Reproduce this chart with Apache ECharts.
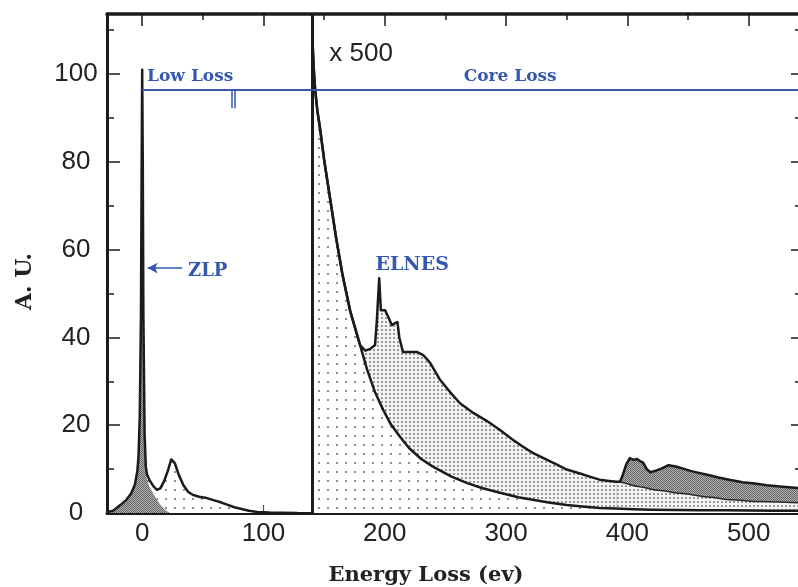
<!DOCTYPE html>
<html>
<head>
<meta charset="utf-8">
<title>EELS spectrum</title>
<script src="https://cdn.jsdelivr.net/npm/echarts@6/dist/echarts.min.js"></script>
<style>
  html, body { margin: 0; padding: 0; background: #ffffff; }
  #chart { width: 798px; height: 587px; }
</style>
</head>
<body>
<div id="chart"></div>
<script>
// ---- Low-loss region (eV, A.U.) ----
const lowLossE = [-29, -24, -18, -13, -9, -6, -4, -3, -2, -1, -0.5, 0, 0.5, 1, 2, 3, 4, 6, 9, 12, 15, 18, 21, 24, 25, 27, 30, 34, 38, 42, 47, 52, 58, 64, 70, 76, 82, 88, 95, 105, 115, 128];
const lowLossI = [0.2, 0.5, 1.8, 3.0, 4.5, 6.5, 9.5, 13, 22, 45, 75, 101, 80, 45, 18, 10.5, 8.8, 7.5, 6.2, 5.3, 5.6, 7.2, 9.5, 12.2, 12.5, 11.3, 8.8, 6.3, 4.8, 4.1, 3.7, 3.5, 3.0, 2.5, 1.9, 1.3, 0.9, 0.5, 0.25, 0.1, 0.05, 0.0];

// Zero-loss peak
const zlpE = [-29, -24, -18, -13, -9, -6, -4, -3, -2, -1, -0.5, 0, 0.5, 1, 2, 3, 4, 6, 8, 10, 12, 15, 18, 21, 23];
const zlpI = [0.2, 0.5, 1.8, 3.0, 4.5, 6.5, 9.5, 13, 22, 45, 75, 101, 80, 45, 18, 10, 7.5, 6.0, 5.0, 4.0, 3.0, 1.9, 1.0, 0.3, 0];

// ---- Core-loss region (x 500) ----
const coreE = [140.5, 141.5, 142.6, 144.5, 146.7, 150, 155, 160, 165, 171.5, 179.7, 184, 188, 192, 193.5, 195.4, 196.8, 200.3, 203, 205.8, 208.6, 210.4, 212, 215, 220, 226.4, 231.7, 237.4, 245.7, 254, 262, 273, 284, 295, 305, 314, 322, 333, 342, 350, 361, 369, 377, 385, 391, 394, 396, 399, 402, 405, 408, 410.5, 413, 416, 419, 424, 428, 434, 440, 446, 452, 458, 466, 475, 485, 495, 505, 515, 528, 541.5];
const coreI = [107, 101, 96.4, 91.5, 87.5, 80.5, 71.5, 62.5, 54.5, 46.0, 38.2, 37.0, 37.4, 38.3, 44, 53.5, 46.2, 46.2, 44.6, 42.8, 43.3, 43.5, 40, 36.7, 36.7, 36.7, 36, 34.2, 30.3, 27.5, 25, 22.8, 21, 18.9, 16.8, 15.1, 13.7, 12.2, 11.0, 9.9, 9.0, 8.3, 7.6, 7.3, 7.1, 7.2, 8.5, 11, 12.5, 12.1, 12.3, 11.8, 11.5, 10.0, 9.3, 9.7, 10.1, 10.9, 10.6, 10.1, 9.6, 9.2, 8.7, 8.1, 7.5, 7.0, 6.7, 6.3, 6.0, 5.7];

// Background under the first edge
const bgE = [140.5, 141.5, 142.6, 144.5, 146.7, 150, 155, 160, 165, 171.5, 179.7, 185.5, 192, 198.7, 205, 212.7, 220, 230, 240, 255, 268, 280, 295, 310, 322, 335, 350, 365, 377, 390, 405, 420, 440, 460, 480, 500, 520, 541.5];
const bgI = [107, 101, 96.4, 91.5, 87.5, 80.5, 71.5, 62.5, 54.5, 46.0, 38.2, 32.6, 27.5, 23.5, 20.2, 17.3, 14.8, 12.3, 10.5, 8.3, 6.8, 5.7, 4.6, 3.6, 3.0, 2.4, 1.8, 1.4, 1.15, 1.0, 0.85, 0.75, 0.7, 0.65, 0.6, 0.55, 0.5, 0.5];

// Background under the second edge
const bg2E = [391, 394, 410, 425, 444, 465, 485, 510, 541.5];
const bg2I = [7.1, 7.0, 6.0, 5.2, 4.5, 3.7, 3.0, 2.6, 2.3];

// ---- Axis ticks ----
const xLabelValues = [0, 100, 200, 300, 400, 500];
const xHalfTicks = [50, 150, 250, 350, 450];
const xAllTicks = [0, 50, 100, 150, 200, 250, 300, 350, 400, 450, 500];

// ---- Annotations ----
const lossLevel = 96.4;
const lowLossEnd = 73.5;
const coreLossStart = 76;
const dividerE = 140;

const pair = (xs, ys) => xs.map((x, i) => [x, ys[i]]);

function makePattern(w, h, bg, dots) {
  const c = document.createElement('canvas');
  c.width = w; c.height = h;
  const g = c.getContext('2d');
  g.fillStyle = bg; g.fillRect(0, 0, w, h);
  dots.forEach(d => { g.fillStyle = d[4]; g.fillRect(d[0], d[1], d[2], d[3]); });
  return { image: c, repeat: 'repeat' };
}
const sparseDots = makePattern(9, 9, '#ffffff', [[3, 3, 2, 2, '#8f8f8f']]);
const mediumDots = makePattern(4, 4, '#f4f4f4', [[1, 1, 2, 2, '#9a9a9a']]);
const darkHatch = makePattern(2, 2, '#b0b0b0', [[0, 0, 1, 1, '#666666'], [1, 1, 1, 1, '#666666']]);

const ink = '#1b1b1b';
const blue = '#3557b0';
const sans = 'Liberation Sans, Arial, sans-serif';
const serif = 'DejaVu Serif, serif';

function fill(data, color, z, extra) {
  return Object.assign({
    type: 'line', data, z, silent: true, symbol: 'none',
    lineStyle: { width: 0, opacity: 0 },
    areaStyle: { color, opacity: 1 }
  }, extra || {});
}
function curve(data, width, z, extra) {
  return Object.assign({
    type: 'line', data, z, silent: true, symbol: 'none',
    lineStyle: { color: ink, width, join: 'round' }
  }, extra || {});
}
const soft = { smooth: 0.25, smoothMonotone: 'x' };

const edge2Start = bg2E[0];
const coreAfterEdge2 = pair(coreE, coreI).filter(p => p[0] >= edge2Start);

const chart = echarts.init(document.getElementById('chart'), null, { renderer: 'canvas' });

const tickStyle = { color: ink, width: 1.5 };
const option = {
  animation: false,
  backgroundColor: '#ffffff',
  grid: { left: 107, top: 14, width: 692, bottom: 74, outerBoundsMode: 'none' },
  xAxis: [
    {
      type: 'value', position: 'bottom', min: -29, max: 541.5,
      axisLine: { onZero: false, lineStyle: { color: ink, width: 3 } },
      axisTick: { inside: true, length: 8, customValues: xAllTicks, lineStyle: { color: '#555', width: 1.2 } },
      axisLabel: { customValues: xLabelValues, fontSize: 26, fontFamily: sans, color: '#222', margin: 8 },
      splitLine: { show: false },
      name: 'Energy Loss (ev)', nameLocation: 'middle', nameGap: 52,
      nameTextStyle: { fontFamily: serif, fontWeight: 'bold', fontSize: 21, color: '#222', padding: [0, 54, 0, 0] }
    },
    {
      type: 'value', position: 'top', min: -29, max: 541.5,
      axisLine: { onZero: false, lineStyle: { color: ink, width: 3.5 } },
      axisTick: { inside: true, length: 12, customValues: xLabelValues, lineStyle: tickStyle },
      axisLabel: { show: false }, splitLine: { show: false }
    },
    {
      type: 'value', position: 'top', min: -29, max: 541.5,
      axisLine: { show: false, onZero: false },
      axisTick: { inside: true, length: 6, customValues: xHalfTicks, lineStyle: tickStyle },
      axisLabel: { show: false }, splitLine: { show: false }
    }
  ],
  yAxis: [
    {
      type: 'value', position: 'left', min: 0, max: 113.7, interval: 20,
      axisLine: { onZero: false, lineStyle: { color: ink, width: 3 } },
      axisTick: { inside: true, length: 13, lineStyle: tickStyle },
      minorTick: { show: true, splitNumber: 2, length: 7, lineStyle: tickStyle },
      axisLabel: {
        fontSize: 26, fontFamily: sans, color: '#222', align: 'center', margin: 31,
        showMaxLabel: false,
        formatter: v => (v % 20 === 0 ? String(v) : '')
      },
      splitLine: { show: false },
      name: 'A. U.', nameLocation: 'middle', nameGap: 71,
      nameTextStyle: { fontFamily: serif, fontWeight: 'bold', fontSize: 22, color: '#222', padding: [0, 36, 0, 0] }
    },
    {
      type: 'value', position: 'right', min: 0, max: 113.7, interval: 20,
      axisLine: { show: false, onZero: false },
      axisTick: { inside: true, length: 8, lineStyle: tickStyle },
      minorTick: { show: true, splitNumber: 2, length: 4, lineStyle: tickStyle },
      axisLabel: { show: false }, splitLine: { show: false }
    }
  ],
  series: [
    // fills, back to front
    fill(pair(lowLossE, lowLossI), sparseDots, 1),
    fill(pair(zlpE, zlpI), darkHatch, 2),
    fill(pair(coreE, coreI), mediumDots, 1),
    fill(coreAfterEdge2, darkHatch, 2),
    fill(pair(bg2E, bg2I), mediumDots, 3, soft),
    fill(pair(bgE, bgI), sparseDots, 4),
    // outlines
    curve(pair(lowLossE, lowLossI), 2.5, 10),
    curve(pair(bg2E, bg2I), 1.5, 10, Object.assign({ lineStyle: { color: '#2a2a2a', width: 1.5 } }, soft)),
    curve(pair(bgE, bgI), 2.5, 10),
    curve(pair(coreE, coreI), 2.5, 10, {
      markLine: {
        silent: true, symbol: ['none', 'none'], animation: false,
        label: { show: false },
        lineStyle: { color: ink, width: 3, type: 'solid' },
        data: [{ xAxis: dividerE }]
      }
    }),
    // blue "Low Loss / Core Loss" bar and annotations
    {
      type: 'line', z: 12, silent: true, symbol: 'none',
      data: [[0, lossLevel], [541.5, lossLevel]],
      lineStyle: { color: blue, width: 2 },
      markLine: {
        silent: true, symbol: ['none', 'none'], animation: false,
        label: { show: false },
        lineStyle: { color: blue, width: 1.5, type: 'solid' },
        data: [
          [{ coord: [lowLossEnd, lossLevel] }, { coord: [lowLossEnd, 92.2] }],
          [{ coord: [coreLossStart, lossLevel] }, { coord: [coreLossStart, 92.2] }],
          [{ coord: [33, 55.8], symbol: 'none' }, { coord: [4.5, 55.8], symbol: 'arrow', symbolSize: [8, 10] }]
        ]
      },
      markPoint: {
        silent: true, symbol: 'circle', symbolSize: 0, animation: false,
        label: {
          show: true, position: 'inside', formatter: '{b}',
          fontFamily: serif, fontWeight: 'bold', fontSize: 17, color: blue
        },
        data: [
          { name: 'Low Loss', coord: [39.6, 99.5] },
          { name: 'Core Loss', coord: [303.4, 99.5] },
          { name: 'ELNES', coord: [222.6, 56.5], label: { fontSize: 19 } },
          { name: 'ZLP', coord: [54, 55.1], label: { fontSize: 18 } },
          { name: 'x 500', coord: [180.5, 104.6], label: { fontFamily: sans, fontWeight: 'normal', fontSize: 26, color: '#222' } }
        ]
      }
    }
  ]
};
chart.setOption(option);
</script>
</body>
</html>
